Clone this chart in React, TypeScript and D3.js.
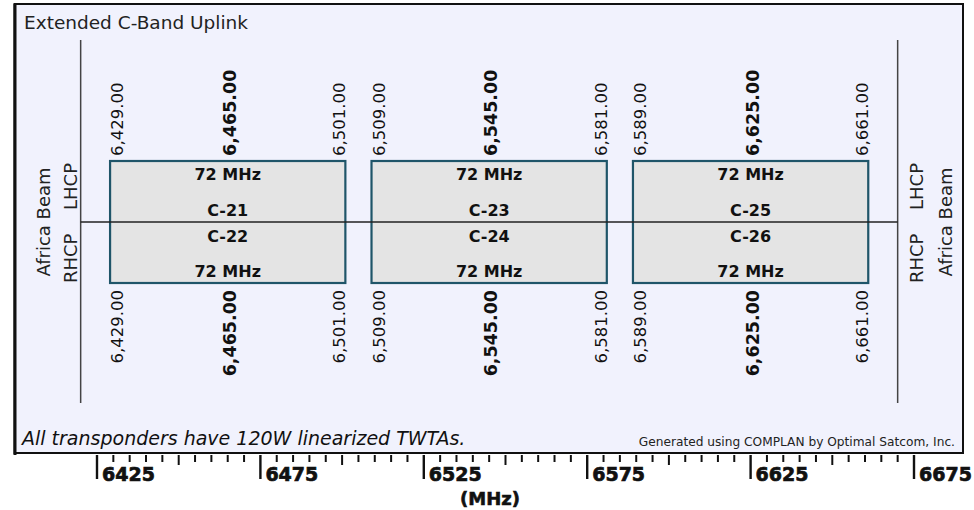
import React from "react";
import * as d3 from "d3";

// ---- data ----
const lhcpNames = ["C-21", "C-23", "C-25"];
const rhcpNames = ["C-22", "C-24", "C-26"];
const lowFreqs = [6429, 6509, 6589];
const centerFreqs = [6465, 6545, 6625];
const highFreqs = [6501, 6581, 6661];
const bandwidths = [72, 72, 72];
const majorTicks = [6425, 6475, 6525, 6575, 6625, 6675];
const minorTickStep = 5;
const beamLimits = [6420, 6670];
const title = "Extended C-Band Uplink";
const footNote = "All transponders have 120W linearized TWTAs.";
const credit = "Generated using COMPLAN by Optimal Satcom, Inc.";
const axisTitle = "(MHz)";

const W = 974;
const H = 510;
const FONT = "DejaVu Sans, Verdana, sans-serif";

export default function App() {
  const x = d3.scaleLinear().domain([6425, 6675]).range([97, 914]);
  const fmt = d3.format(",.2f");
  const minorTicks = d3.range(majorTicks[0], majorTicks[majorTicks.length - 1] + 1, minorTickStep);

  const boxTop = 161;
  const mid = 222;
  const boxBot = 283;
  const lineTop = 40;
  const lineBot = 403;
  const topLabelY = 156;
  const botLabelY = 290;

  const rot = (tx: number, ty: number) => `translate(${tx},${ty}) rotate(-90)`;

  const freqLabels: JSX.Element[] = [];
  lowFreqs.forEach((lf, i) => {
    const items = [
      { v: lf, bx: x(lf) + 13, bold: false },
      { v: centerFreqs[i], bx: x(centerFreqs[i]) + 8, bold: true },
      { v: highFreqs[i], bx: x(highFreqs[i]), bold: false },
    ];
    items.forEach((it, j) => {
      const style = {
        fontFamily: FONT,
        fontSize: it.bold ? 17.5 : 16.5,
        fontWeight: it.bold ? 700 : 400,
        fill: "#111",
      } as React.CSSProperties;
      freqLabels.push(
        <text key={`t${i}${j}`} transform={rot(it.bx, topLabelY)} textAnchor="start" style={style}>
          {fmt(it.v)}
        </text>
      );
      freqLabels.push(
        <text key={`b${i}${j}`} transform={rot(it.bx, botLabelY)} textAnchor="end" style={style}>
          {fmt(it.v)}
        </text>
      );
    });
  });

  const sideStyle = { fontFamily: FONT, fontSize: 18, fill: "#222" } as React.CSSProperties;

  return (
    <svg width={W} height={H} style={{ position: "absolute", left: 0, top: 0 }}>
      <rect x={0} y={0} width={W} height={H} fill="#ffffff" />
      {/* panel */}
      <rect x={14.5} y={4} width={948.5} height={449} fill="#f1f2fd" stroke="#111" strokeWidth={2} />
      <line x1={15} x2={15} y1={4} y2={455} stroke="#111" strokeWidth={3} />
      <text x={24} y={29} style={{ fontFamily: FONT, fontSize: 18.5, fill: "#222" }}>
        {title}
      </text>

      {/* beam limit lines */}
      {beamLimits.map((b, i) => (
        <line key={`bl${i}`} x1={x(b)} x2={x(b)} y1={lineTop} y2={lineBot} stroke="#444" strokeWidth={1.5} />
      ))}

      {/* boxes */}
      {lowFreqs.map((lf, i) => (
        <g key={`box${i}`}>
          <rect
            x={x(lf)}
            y={boxTop}
            width={x(highFreqs[i]) - x(lf)}
            height={boxBot - boxTop}
            fill="#e4e4e4"
            stroke="#1f5569"
            strokeWidth={2.2}
          />
        </g>
      ))}
      <line x1={x(beamLimits[0])} x2={x(beamLimits[1])} y1={mid} y2={mid} stroke="#222" strokeWidth={1.3} />

      {lowFreqs.map((lf, i) => {
        const cx = x(centerFreqs[i]);
        const st = { fontFamily: FONT, fontSize: 16, fontWeight: 700, fill: "#111" } as React.CSSProperties;
        return (
          <g key={`bt${i}`}>
            <text x={cx} y={180} textAnchor="middle" style={st}>{`${bandwidths[i]} MHz`}</text>
            <text x={cx} y={216} textAnchor="middle" style={st}>{lhcpNames[i]}</text>
            <text x={cx} y={241.5} textAnchor="middle" style={st}>{rhcpNames[i]}</text>
            <text x={cx} y={276.5} textAnchor="middle" style={st}>{`${bandwidths[i]} MHz`}</text>
          </g>
        );
      })}

      {freqLabels}

      {/* side labels */}
      <text transform={rot(77, 210)} textAnchor="start" style={sideStyle}>LHCP</text>
      <text transform={rot(77, 283)} textAnchor="start" style={sideStyle}>RHCP</text>
      <text transform={rot(50, mid)} textAnchor="middle" style={sideStyle}>Africa Beam</text>
      <text transform={rot(923, 210)} textAnchor="start" style={sideStyle}>LHCP</text>
      <text transform={rot(923, 283)} textAnchor="start" style={sideStyle}>RHCP</text>
      <text transform={rot(952, mid)} textAnchor="middle" style={sideStyle}>Africa Beam</text>

      {/* footer */}
      <text x={22} y={445} style={{ fontFamily: FONT, fontSize: 19, fontStyle: "italic", fill: "#111" }}>
        {footNote}
      </text>
      <text x={955} y={446} textAnchor="end" style={{ fontFamily: FONT, fontSize: 12.2, fill: "#222" }}>
        {credit}
      </text>

      {/* axis */}
      {minorTicks.map((t) => {
        const isMajor = majorTicks.includes(t);
        const isMid = !isMajor && (t - majorTicks[0]) % 25 === 0;
        const len = isMajor ? 24 : isMid ? 10 : 7;
        return (
          <line
            key={`tk${t}`}
            x1={x(t)}
            x2={x(t)}
            y1={455}
            y2={455 + len}
            stroke="#111"
            strokeWidth={isMajor ? 2.4 : 2}
          />
        );
      })}
      {majorTicks.map((t) => (
        <text
          key={`tl${t}`}
          x={x(t) + 5}
          y={481}
          style={{ fontFamily: FONT, fontSize: 19, fontWeight: 700, fill: "#111", stroke: "#111", strokeWidth: 0.7 }}
        >
          {t}
        </text>
      ))}
      <text
        x={490}
        y={505}
        textAnchor="middle"
        style={{ fontFamily: FONT, fontSize: 18, fontWeight: 700, fill: "#111", stroke: "#111", strokeWidth: 0.6 }}
      >
        {axisTitle}
      </text>
    </svg>
  );
}
